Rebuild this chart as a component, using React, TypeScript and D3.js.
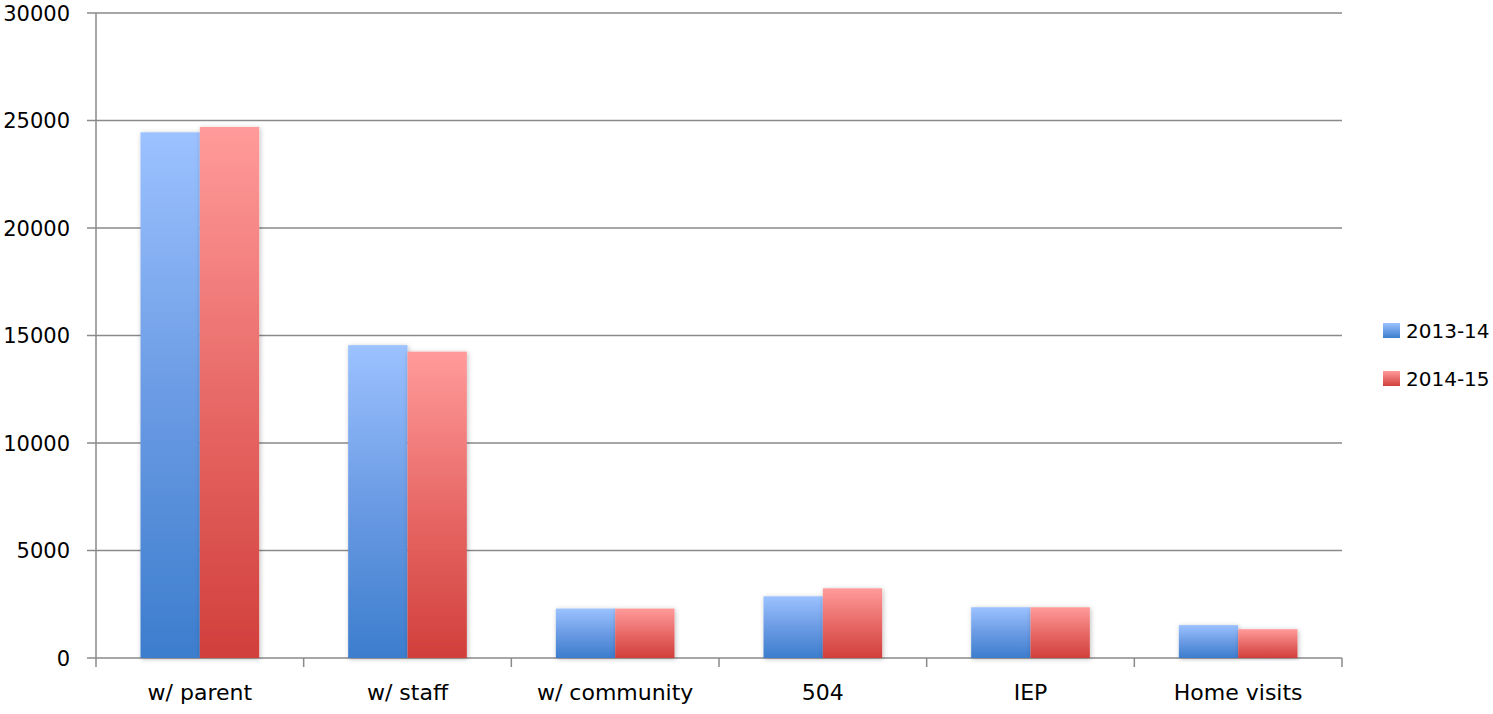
import React from "react";
import * as d3 from "d3";

const categories = ["w/ parent", "w/ staff", "w/ community", "504", "IEP", "Home visits"];
const seriesNames = ["2013-14", "2014-15"];
const values2013 = [24450, 14550, 2300, 2870, 2360, 1530];
const values2014 = [24700, 14250, 2300, 3240, 2360, 1340];
const yTicks = [0, 5000, 10000, 15000, 20000, 25000, 30000];

const W = 1493, H = 714;
const left = 96, right = 1342, top = 13, bottom = 658;

export default function App() {
  const x = d3.scaleBand<string>().domain(categories).range([left, right]).paddingInner(0).paddingOuter(0);
  const y = d3.scaleLinear().domain([0, 30000]).range([bottom, top]);
  const bw = x.bandwidth();
  const barW = bw / 3.5;
  const series = [values2013, values2014];
  const grads = ["gBlue", "gRed"];
  const font = "'DejaVu Sans', sans-serif";
  return (
    <svg width={W} height={H} style={{ position: "absolute", left: 0, top: 0, background: "#fff" }}>
      <defs>
        <linearGradient id="gBlue" x1="0" y1="0" x2="0" y2="1">
          <stop offset="0" stopColor="#9CC2FF" />
          <stop offset="0.5" stopColor="#6B9BE4" />
          <stop offset="1" stopColor="#3C7DCD" />
        </linearGradient>
        <linearGradient id="gRed" x1="0" y1="0" x2="0" y2="1">
          <stop offset="0" stopColor="#FF9B9A" />
          <stop offset="0.5" stopColor="#E86A68" />
          <stop offset="1" stopColor="#D13F3B" />
        </linearGradient>
        <linearGradient id="lBlue" x1="0" y1="0" x2="0" y2="1">
          <stop offset="0" stopColor="#9CC2FF" />
          <stop offset="1" stopColor="#3C7DCD" />
        </linearGradient>
        <linearGradient id="lRed" x1="0" y1="0" x2="0" y2="1">
          <stop offset="0" stopColor="#FF9B9A" />
          <stop offset="1" stopColor="#D13F3B" />
        </linearGradient>
        <filter id="shadow" x="-20%" y="-10%" width="140%" height="120%">
          <feDropShadow dx="1" dy="1" stdDeviation="2.5" floodColor="#000" floodOpacity="0.25" />
        </filter>
      </defs>
      {yTicks.map((t) => (
        <g key={t}>
          <line x1={left - 9} x2={right} y1={y(t)} y2={y(t)} stroke="#8a8a8a" strokeWidth={1.5} />
          <text x={70} y={y(t)} dy="0.36em" textAnchor="end" fontFamily={font} fontSize={21} fill="#000">{t}</text>
        </g>
      ))}
      <line x1={left} x2={left} y1={top} y2={bottom + 9} stroke="#8a8a8a" strokeWidth={1.5} />
      {categories.map((c) => (
        <line key={"t" + c} x1={(x(c) as number) + bw} x2={(x(c) as number) + bw} y1={bottom} y2={bottom + 9} stroke="#8a8a8a" strokeWidth={1.5} />
      ))}
      {categories.map((c, i) => {
        const cx = (x(c) as number) + bw / 2;
        return (
          <g key={c}>
            {series.map((s, k) => (
              <rect key={k} x={cx - barW + k * barW} y={y(s[i])} width={barW} height={bottom - y(s[i])}
                fill={`url(#${grads[k]})`} filter="url(#shadow)" />
            ))}
            <text x={cx} y={700} textAnchor="middle" fontFamily={font} fontSize={22} fill="#000">{c}</text>
          </g>
        );
      })}
      {seriesNames.map((n, k) => (
        <g key={n} transform={`translate(1383, ${323 + k * 48})`}>
          <rect x={0} y={0} width={17} height={15} fill={k === 0 ? "url(#lBlue)" : "url(#lRed)"} />
          <text x={23} y={15} fontFamily={font} fontSize={20} fill="#000">{n}</text>
        </g>
      ))}
    </svg>
  );
}
